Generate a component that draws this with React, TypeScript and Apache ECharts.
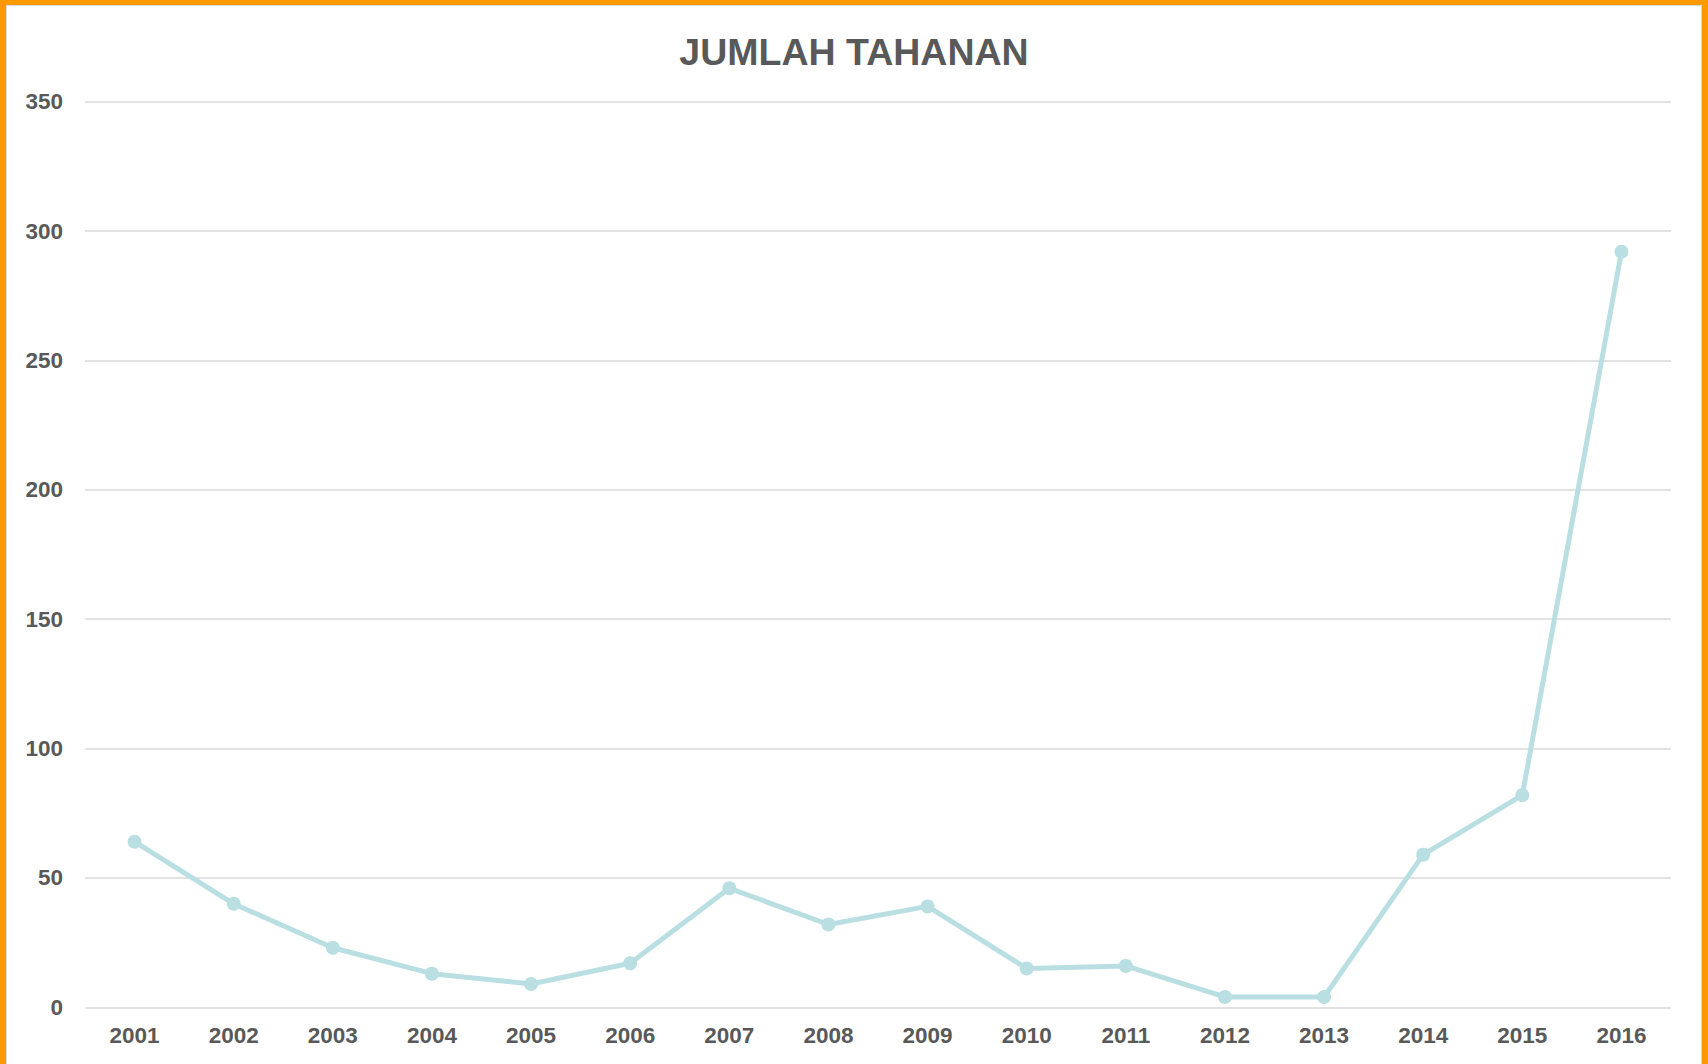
import React, { useEffect, useRef } from "react";
import * as echarts from "echarts";

const years = ["2001","2002","2003","2004","2005","2006","2007","2008","2009","2010","2011","2012","2013","2014","2015","2016"];
const tahanan = [64, 40, 23, 13, 9, 17, 46, 32, 39, 15, 16, 4, 4, 59, 82, 292];
const titleText = "JUMLAH TAHANAN";

export default function App() {
  const ref = useRef<HTMLDivElement>(null);
  useEffect(() => {
    if (!ref.current) return;
    const chart = echarts.init(ref.current, null, { renderer: "svg" });
    chart.setOption({
      animation: false,
      backgroundColor: "#ffffff",
      title: {
        text: titleText,
        left: "center",
        top: 22,
        textStyle: { fontFamily: "Liberation Sans, Arial, sans-serif", fontSize: 37.5, fontWeight: "bold", color: "#595959" },
      },
      grid: { left: 78, right: 30, top: 95.7, bottom: 56.7, containLabel: false },
      xAxis: {
        type: "category",
        data: years,
        boundaryGap: true,
        axisLine: { show: false },
        axisTick: { show: false },
        axisLabel: { margin: 17, fontFamily: "Liberation Sans, Arial, sans-serif", fontSize: 22.5, fontWeight: "bold", color: "#595959" },
      },
      yAxis: {
        type: "value",
        min: 0,
        max: 350,
        interval: 50,
        axisLine: { show: false },
        axisTick: { show: false },
        splitLine: { lineStyle: { color: "#D9D9D9", width: 1.5 } },
        axisLabel: { margin: 22, fontFamily: "Liberation Sans, Arial, sans-serif", fontSize: 22.5, fontWeight: "bold", color: "#595959" },
      },
      series: [
        {
          type: "line",
          data: tahanan,
          symbol: "circle",
          symbolSize: 14,
          lineStyle: { color: "#B9DFE3", width: 5 },
          itemStyle: { color: "#B9DFE3" },
        },
      ],
    });
    return () => chart.dispose();
  }, []);
  return (
    <div style={{ position: "absolute", left: 0, top: 0, width: 1708, height: 1064, boxSizing: "border-box", borderTop: "5px solid #FF9900", borderLeft: "6px solid #FF9900", borderRight: "6px solid #FF9900", background: "#fff" }}>
      <div style={{ width: "100%", height: "100%", boxSizing: "border-box", borderTop: "1px solid #D9D9D9", borderLeft: "1px solid #D9D9D9", borderRight: "1px solid #D9D9D9" }}>
        <div ref={ref} style={{ width: 1694, height: 1058 }} />
      </div>
    </div>
  );
}
